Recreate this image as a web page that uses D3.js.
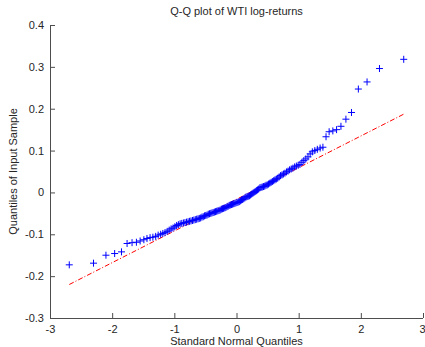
<!DOCTYPE html>
<html><head><meta charset="utf-8">
<script src="https://cdn.jsdelivr.net/npm/d3@7"></script>
<style>
body{margin:0;background:#fff;}
svg{display:block;font-family:"Liberation Sans",Arial,sans-serif;}
</style></head>
<body><svg id="c" width="425" height="347"></svg>
<script>
const title = "Q-Q plot of WTI log-returns";
const xLabel = "Standard Normal Quantiles";
const yLabel = "Quantiles of Input Sample";
const xTicks = [-3,-2,-1,0,1,2,3];
const yTicks = [-0.3,-0.2,-0.1,0,0.1,0.2,0.3,0.4];
const xTickLabels = ["-3","-2","-1","0","1","2","3"];
const yTickLabels = ["-0.3","-0.2","-0.1","0","0.1","0.2","0.3","0.4"];

// Standard normal quantiles (x) and sorted sample quantiles (y)
const qx = [-2.69,-2.30,-2.10,-1.96,-1.85,-1.76,-1.68,-1.61,-1.55,-1.49,
-1.44,-1.39,-1.345,-1.30,-1.26,-1.22,-1.185,-1.15,-1.115,-1.083,
-1.052,-1.021,-0.992,-0.963,-0.935,-0.907,-0.880,-0.854,-0.829,-0.804,
-0.779,-0.755,-0.732,-0.708,-0.686,-0.663,-0.641,-0.619,-0.598,-0.577,
-0.556,-0.535,-0.514,-0.494,-0.474,-0.454,-0.434,-0.414,-0.395,-0.376,
-0.356,-0.337,-0.319,-0.300,-0.281,-0.263,-0.244,-0.226,-0.208,-0.189,
-0.171,-0.153,-0.135,-0.117,-0.099,-0.081,-0.063,-0.045,-0.027,-0.009,
0.009,0.027,0.045,0.063,0.081,0.099,0.117,0.135,0.153,0.171,
0.189,0.208,0.226,0.244,0.263,0.281,0.300,0.319,0.337,0.356,
0.376,0.395,0.414,0.434,0.454,0.474,0.494,0.514,0.535,0.556,
0.577,0.598,0.619,0.641,0.663,0.686,0.708,0.732,0.755,0.779,
0.804,0.829,0.854,0.880,0.907,0.935,0.963,0.992,1.021,1.052,
1.083,1.115,1.15,1.185,1.22,1.26,1.30,1.345,1.39,1.44,
1.49,1.55,1.61,1.68,1.76,1.85,1.96,2.10,2.30,2.69];
const qy = [-0.173,-0.169,-0.150,-0.146,-0.142,-0.122,-0.120,-0.119,-0.116,-0.113,
-0.110,-0.108,-0.107,-0.105,-0.102,-0.100,-0.098,-0.096,-0.093,-0.090,
-0.087,-0.085,-0.082,-0.079,-0.077,-0.075,-0.074,-0.073,-0.072,-0.071,
-0.070,-0.069,-0.068,-0.067,-0.066,-0.065,-0.064,-0.063,-0.062,-0.061,
-0.059,-0.058,-0.056,-0.055,-0.054,-0.052,-0.051,-0.050,-0.049,-0.048,
-0.047,-0.046,-0.045,-0.044,-0.043,-0.042,-0.040,-0.039,-0.038,-0.037,
-0.036,-0.034,-0.033,-0.031,-0.030,-0.029,-0.028,-0.027,-0.026,-0.025,
-0.024,-0.023,-0.022,-0.020,-0.018,-0.017,-0.015,-0.013,-0.011,-0.010,
-0.009,-0.008,-0.006,-0.004,-0.002,0.000,0.002,0.004,0.006,0.008,
0.011,0.012,0.013,0.014,0.015,0.017,0.018,0.020,0.022,0.024,
0.026,0.028,0.030,0.032,0.034,0.037,0.040,0.042,0.044,0.046,
0.049,0.051,0.054,0.056,0.058,0.061,0.063,0.065,0.067,0.072,
0.076,0.080,0.085,0.092,0.097,0.100,0.103,0.106,0.108,0.133,
0.145,0.147,0.150,0.158,0.175,0.191,0.247,0.264,0.296,0.318];

// Reference line end points
const refX = [-2.69, 2.69];
const refY = [-0.220, 0.187];

const svg = d3.select("#c");
const L = 50, R = 423, T = 25, B = 318;
const x = d3.scaleLinear().domain([-3,3]).range([L,R]);
const y = d3.scaleLinear().domain([-0.3,0.4]).range([B,T]);

const axisColor = "#4d4d4d", textColor = "#262626";

// X axis
const xa = svg.append("g").attr("transform",`translate(0,${B})`)
  .call(d3.axisBottom(x).tickValues(xTicks).tickSize(-5).tickPadding(7)
    .tickFormat((d,i)=>xTickLabels[i]));
// Y axis
const ya = svg.append("g").attr("transform",`translate(${L},0)`)
  .call(d3.axisLeft(y).tickValues(yTicks).tickSize(-5).tickPadding(6)
    .tickFormat((d,i)=>yTickLabels[i]));
[xa,ya].forEach(g=>{
  g.select(".domain").attr("stroke",axisColor).attr("stroke-width",1);
  g.selectAll(".tick line").attr("stroke",axisColor);
  g.selectAll(".tick text").attr("fill",textColor).attr("font-size",11)
    .attr("font-family","'Liberation Sans',Arial,sans-serif");
});
// keep the last x tick label inside the window
xa.selectAll(".tick text").filter((d,i)=>i===xTicks.length-1)
  .attr("text-anchor","end").attr("dx",2);
xa.select(".domain").attr("d",`M${L},0.5H${R}`);
ya.select(".domain").attr("d",`M0.5,${B}V${T}`);

// Reference line
svg.append("line")
  .attr("x1",x(refX[0])).attr("y1",y(refY[0]))
  .attr("x2",x(refX[1])).attr("y2",y(refY[1]))
  .attr("stroke","#ff0000").attr("stroke-width",1)
  .attr("stroke-dasharray","5,2,1,2");

// Data points as '+'
const s = 3.5;
svg.append("g").selectAll("path").data(qx.map((v,i)=>[v,qy[i]])).join("path")
  .attr("d",d=>{const cx=x(d[0]),cy=y(d[1]);
    return `M${cx-s},${cy}H${cx+s}M${cx},${cy-s}V${cy+s}`;})
  .attr("stroke","#0000ff").attr("stroke-width",1).attr("fill","none");

// Title and labels
svg.append("text").attr("x",(L+R)/2).attr("y",15).attr("text-anchor","middle")
  .attr("font-size",11).attr("fill",textColor).text(title);
svg.append("text").attr("x",(L+R)/2).attr("y",345).attr("text-anchor","middle")
  .attr("font-size",11).attr("fill",textColor).text(xLabel);
svg.append("text").attr("transform",`translate(17,${(T+B)/2}) rotate(-90)`)
  .attr("text-anchor","middle").attr("font-size",11).attr("fill",textColor).text(yLabel);
</script></body></html>
